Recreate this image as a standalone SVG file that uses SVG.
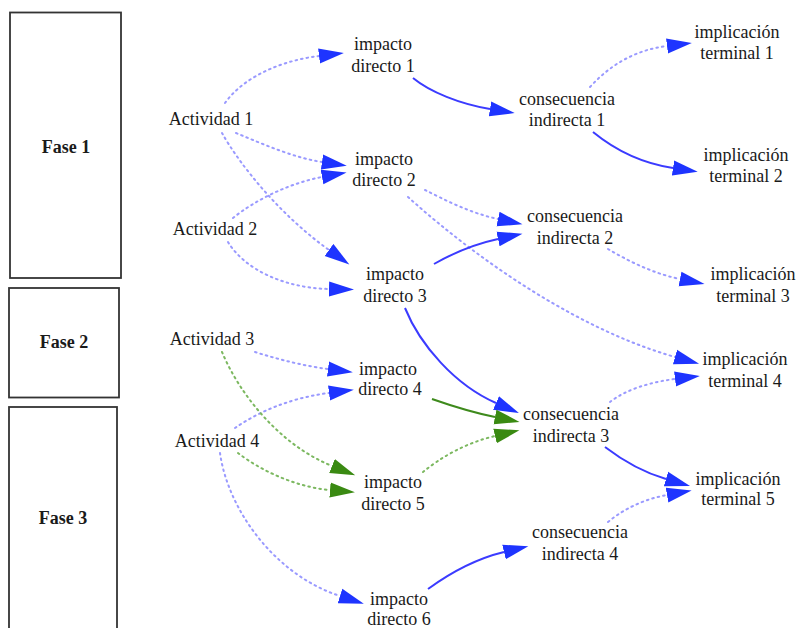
<svg xmlns="http://www.w3.org/2000/svg" width="798" height="628" viewBox="0 0 798 628">
  <style>
    text { font-family: "Liberation Serif", "Times New Roman", serif; font-size: 18px; fill: #1a1a1a; text-anchor: middle; }
    .phase rect { fill: #ffffff; stroke: #333333; stroke-width: 1.8; }
    .phase text { font-weight: bold; }
    .e { fill: none; }
    .solid { stroke: #3b3bff; stroke-width: 2; marker-end: url(#ab); }
    .dot { stroke: #9a9aff; stroke-width: 2; stroke-dasharray: 1.6 4; stroke-linecap: round; marker-end: url(#ab); }
    .gsolid { stroke: #3e8a1c; stroke-width: 2; marker-end: url(#ag); }
    .gdot { stroke: #7cb860; stroke-width: 2; stroke-dasharray: 1.6 4; stroke-linecap: round; marker-end: url(#ag); }
  </style>
  <defs>
    <marker id="ab" markerUnits="userSpaceOnUse" markerWidth="26" markerHeight="16" refX="0" refY="8" orient="auto" viewBox="0 0 26 16">
      <path d="M0,0.5 L25,8 L0,15.5 Z" fill="#1e34ff"/>
    </marker>
    <marker id="ag" markerUnits="userSpaceOnUse" markerWidth="26" markerHeight="16" refX="0" refY="8" orient="auto" viewBox="0 0 26 16">
      <path d="M0,0.5 L25,8 L0,15.5 Z" fill="#3a8a12"/>
    </marker>
  </defs>
  <rect width="798" height="628" fill="#ffffff"/>

  <!-- phase boxes -->
  <g id="fase1" class="phase"><rect x="10" y="12.5" width="111" height="265.5"/><text x="66" y="153">Fase 1</text></g>
  <g id="fase2" class="phase"><rect x="9" y="288" width="110" height="109.5"/><text x="64" y="348">Fase 2</text></g>
  <g id="fase3" class="phase"><rect x="9" y="407" width="108" height="240"/><text x="63" y="524">Fase 3</text></g>

  <!-- connectors -->
  <g id="connectors" class="e">
    <path class="e dot" d="M225,103 C245,75 285,60 319,56"/>
    <path class="e dot" d="M236,133 C265,145 295,158 322,162"/>
    <path class="e dot" d="M222,133 C240,165 280,215 329,250"/>
    <path class="e dot" d="M233,218 C255,200 290,183 322,177"/>
    <path class="e dot" d="M228,242 C245,270 285,288 329,289"/>
    <path class="e solid" d="M413,78 C430,92 460,104 490,109"/>
    <path class="e dot" d="M590,87 C610,65 635,50 667,46"/>
    <path class="e solid" d="M593,132 C615,150 640,163 673,168"/>
    <path class="e dot" d="M425,190 C445,200 470,213 498,219"/>
    <path class="e dot" d="M408,197 C480,262 580,330 675,357"/>
    <path class="e solid" d="M434,264 C455,252 475,244 498,239"/>
    <path class="e dot" d="M608,249 C630,262 655,274 680,279"/>
    <path class="e solid" d="M405,308 C420,345 455,385 496,403"/>
    <path class="e gsolid" d="M432,399 C452,406 475,413 495,417"/>
    <path class="e gdot" d="M423,472 C440,458 465,443 495,436"/>
    <path class="e dot" d="M610,402 C625,390 650,382 675,379"/>
    <path class="e solid" d="M605,447 C622,460 642,472 666,479"/>
    <path class="e dot" d="M608,522 C625,508 645,499 667,495"/>
    <path class="e solid" d="M428,589 C450,573 475,559 504,552"/>
    <path class="e dot" d="M255,352 C280,360 305,366 328,369"/>
    <path class="e dot" d="M235,428 C258,412 290,398 329,393"/>
    <path class="e gdot" d="M222,352 C240,395 280,445 332,466"/>
    <path class="e gdot" d="M238,453 C260,470 295,487 330,490"/>
    <path class="e dot" d="M220,453 C228,510 275,575 340,596"/>
  </g>

  <!-- activities -->
  <g id="actividad1"><text x="211" y="125">Actividad 1</text></g>
  <g id="actividad2"><text x="215" y="235">Actividad 2</text></g>
  <g id="actividad3"><text x="212" y="345">Actividad 3</text></g>
  <g id="actividad4"><text x="217" y="447">Actividad 4</text></g>

  <!-- direct impacts -->
  <g id="impacto1"><text x="383" y="50">impacto</text><text x="383" y="72">directo 1</text></g>
  <g id="impacto2"><text x="384" y="165">impacto</text><text x="384" y="186">directo 2</text></g>
  <g id="impacto3"><text x="395" y="280">impacto</text><text x="395" y="302">directo 3</text></g>
  <g id="impacto4"><text x="388" y="375">impacto</text><text x="390" y="395">directo 4</text></g>
  <g id="impacto5"><text x="393" y="488">impacto</text><text x="393" y="510">directo 5</text></g>
  <g id="impacto6"><text x="399" y="605">impacto</text><text x="399" y="625">directo 6</text></g>

  <!-- indirect consequences -->
  <g id="consecuencia1"><text x="567" y="105">consecuencia</text><text x="567" y="126">indirecta 1</text></g>
  <g id="consecuencia2"><text x="575" y="222">consecuencia</text><text x="575" y="244">indirecta 2</text></g>
  <g id="consecuencia3"><text x="571" y="420">consecuencia</text><text x="571" y="442">indirecta 3</text></g>
  <g id="consecuencia4"><text x="580" y="538">consecuencia</text><text x="580" y="560">indirecta 4</text></g>

  <!-- terminal implications -->
  <g id="implicacion1"><text x="737" y="38">implicación</text><text x="737" y="59">terminal 1</text></g>
  <g id="implicacion2"><text x="746" y="161">implicación</text><text x="746" y="182">terminal 2</text></g>
  <g id="implicacion3"><text x="753" y="280">implicación</text><text x="753" y="302">terminal 3</text></g>
  <g id="implicacion4"><text x="745" y="365">implicación</text><text x="745" y="387">terminal 4</text></g>
  <g id="implicacion5"><text x="738" y="485">implicación</text><text x="738" y="505">terminal 5</text></g>
</svg>
